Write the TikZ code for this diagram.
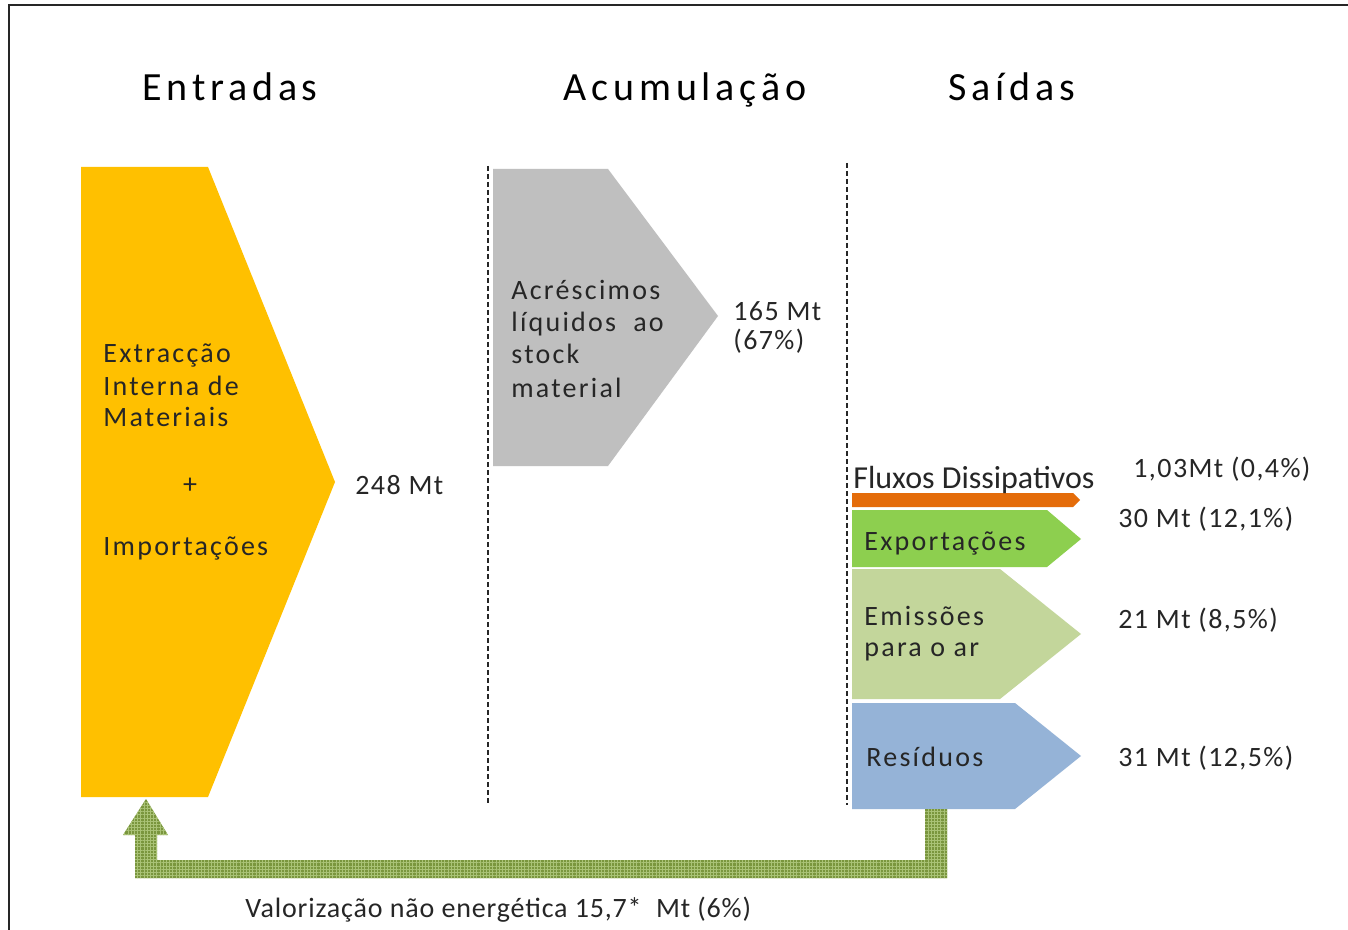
\documentclass[tikz,border=0pt]{standalone}
\usepackage{fontspec}
\usetikzlibrary{patterns.meta}
\newfontfamily\bodyf{Carlito}[LetterSpace=8]
\newfontfamily\numf{Carlito}[LetterSpace=5]
\newfontfamily\valf{Carlito}[LetterSpace=3]
\newfontfamily\titlef{Carlito}[LetterSpace=12]
\newfontfamily\plainf{Carlito}
\definecolor{yel}{HTML}{FFC000}
\definecolor{gry}{HTML}{BFBFBF}
\definecolor{org}{HTML}{E46C0A}
\definecolor{grn}{HTML}{8DCF4F}
\definecolor{lgrn}{HTML}{C3D69B}
\definecolor{blu}{HTML}{95B3D7}
\definecolor{olv}{HTML}{7A963E}
\definecolor{olvl}{HTML}{A9C276}
\definecolor{txt}{HTML}{262626}
\tikzset{
  ttl/.style={anchor=base, inner sep=0pt, text=black, font=\titlef\fontsize{20}{24}\selectfont},
  lbl/.style={anchor=base west, inner sep=0pt, text=txt, font=\bodyf\fontsize{14}{16}\selectfont},
  num/.style={lbl, font=\numf\fontsize{14}{16}\selectfont},
  sep/.style={line width=0.9pt, dash pattern=on 2.5pt off 1.5pt, black!85},
}
\begin{document}
\begin{tikzpicture}[x=0.5pt,y=-0.5pt]
\useasboundingbox (0,0) rectangle (1348,930);
\fill[white] (0,0) rectangle (1348,930);
% frame
\draw[line width=1pt, black!85] (9,930) -- (9,5) -- (1348,5);
% titles
\node[ttl] (tin) at (230,101) {Entradas};
\node[ttl] (tacc) at (685,101) {Acumulação};
\node[ttl] (tout) at (1012,101) {Saídas};
% separators
\draw[sep] (488,166) -- (488,805);
\draw[sep] (847,163) -- (847,805);
% yellow input arrow
\fill[yel] (81,167) -- (208,167) -- (335,482) -- (208,797) -- (81,797) -- cycle;
\node[lbl] (in1) at (103,363) {Extracção};
\node[lbl] (in2) at (103,395) {Interna de};
\node[lbl] (in3) at (103,426) {Materiais};
\node[lbl, anchor=base] (inp) at (190,493) {+};
\node[lbl] (in4) at (103,555) {Importações};
\node[num] (inv) at (355,494) {248 Mt};
% grey accumulation arrow
\fill[gry] (493,169) -- (608,169) -- (718,316) -- (608,466) -- (493,466) -- cycle;
\node[lbl] (ac1) at (511,300) {Acréscimos};
\node[lbl] (ac2) at (511,332) {líquidos\ \ ao};
\node[lbl] (ac3) at (511,364) {stock};
\node[lbl] (ac4) at (511,397) {material};
\node[num] (acv1) at (733,321) {165 Mt};
\node[num] (acv2) at (733,350) {(67\%)};
% outputs
\fill[org] (852,493) -- (1073,493) -- (1080,500) -- (1073,507) -- (852,507) -- cycle;
\fill[grn] (852,510) -- (1047,510) -- (1081,539) -- (1047,567) -- (852,567) -- cycle;
\fill[lgrn] (852,569) -- (1000,569) -- (1081,634) -- (1000,699) -- (852,699) -- cycle;
\fill[blu] (852,703) -- (1015,703) -- (1081,756) -- (1015,809) -- (852,809) -- cycle;
\node[lbl, font=\plainf\fontsize{16}{18}\selectfont] (fd) at (853,488) {Fluxos Dissipativos};
\node[num] (fdv) at (1133,477) {1,03Mt (0,4\%)};
\node[lbl] (ex) at (864,550) {Exportações};
\node[num] (exv) at (1118,527) {30 Mt (12,1\%)};
\node[lbl] (em1) at (864,625) {Emissões};
\node[lbl] (em2) at (864,656) {para o ar};
\node[num] (emv) at (1118,628) {21 Mt (8,5\%)};
\node[lbl] (re) at (866,766) {Resíduos};
\node[num] (rev) at (1118,766) {31 Mt (12,5\%)};
% return arrow
\def\retpath{(925,809) -- (947,809) -- (947,878) -- (135,878) -- (135,835) -- (123,835) -- (146,799) -- (168,835) -- (157,835) -- (157,860) -- (925,860) -- cycle}
\fill[olv] \retpath;
\fill[pattern={Lines[angle=0,distance=1.6pt,line width=0.45pt]}, pattern color=olvl] \retpath;
\fill[pattern={Lines[angle=90,distance=1.6pt,line width=0.45pt]}, pattern color=olvl] \retpath;
\node[lbl, font=\valf\fontsize{14}{16}\selectfont] (val) at (245,917) {Valorização não energética 15,7*\ \ Mt (6\%)};
\end{tikzpicture}
\end{document}
